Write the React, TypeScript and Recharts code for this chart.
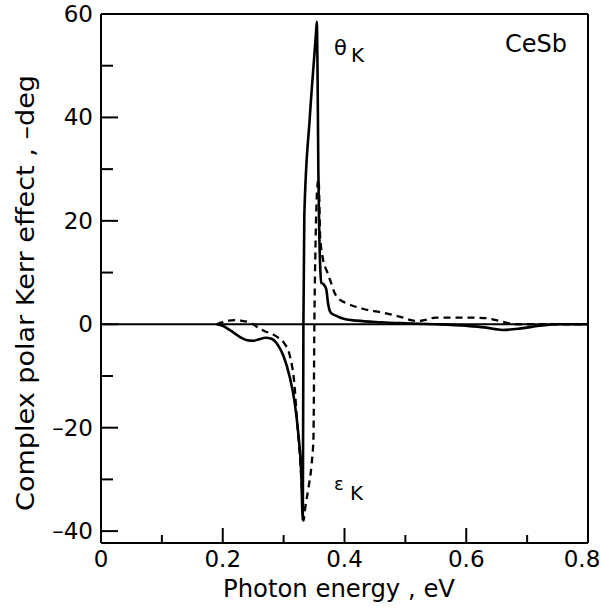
import { LineChart, Line, XAxis, YAxis, ReferenceLine, Label, Customized } from "recharts";

// theta_K (solid)
const thetaEnergy = [
  0.19, 0.2, 0.21, 0.22, 0.23, 0.24, 0.25, 0.26, 0.27, 0.28, 0.29, 0.3, 0.31, 0.318, 0.324, 0.329, 0.3315,
  0.3325, 0.334, 0.343, 0.353, 0.3545, 0.356, 0.357, 0.3585, 0.3605, 0.362, 0.365, 0.37, 0.373, 0.377, 0.385,
  0.4, 0.42, 0.46, 0.5, 0.55, 0.6, 0.63, 0.66, 0.69, 0.72, 0.75, 0.8,
];
const thetaKerr = [
  0, -0.3, -1, -1.8, -2.6, -3.1, -3.2, -2.9, -2.6, -2.8, -3.9, -6.2, -10.2, -15, -21, -29, -37.8,
  0, 21, 40, 56, 58.5, 45, 30, 18, 10, 8, 7.8, 6.8, 4, 2.3, 1.7,
  1.0, 0.7, 0.4, 0.2, 0, -0.3, -0.6, -1.1, -0.8, -0.3, 0, 0,
];

// epsilon_K (dashed)
const epsEnergy = [
  0.19, 0.2, 0.21, 0.22, 0.23, 0.24, 0.25, 0.26, 0.27, 0.28, 0.29, 0.3, 0.31, 0.318, 0.322, 0.327, 0.3305,
  0.3325, 0.336, 0.341, 0.346, 0.349, 0.3505, 0.3525, 0.355, 0.3575, 0.36, 0.364, 0.372, 0.378, 0.384, 0.39,
  0.405, 0.43, 0.46, 0.49, 0.52, 0.535, 0.55, 0.6, 0.63, 0.66, 0.68, 0.8,
];
const epsKerr = [
  0, 0.4, 0.7, 0.8, 0.7, 0.5, 0, -0.8, -1.4, -1.8, -2.5, -3.5, -6, -12, -18.5, -26, -33,
  -38, -35, -31.5, -27, -22, 0, 16, 26, 28, 17, 13, 10, 8, 6, 5,
  4, 3, 2.3, 1.5, 0.6, 0.9, 1.3, 1.3, 1.2, 0.5, 0, 0,
];

const xTicks = [0, 0.1, 0.2, 0.3, 0.4, 0.5, 0.6, 0.7, 0.8];
const xLabels = ["0", "", "0.2", "", "0.4", "", "0.6", "", "0.8"];
const yTicks = [-40, -30, -20, -10, 0, 10, 20, 30, 40, 50, 60];
const yLabels = ["–40", "", "–20", "", "0", "", "20", "", "40", "", "60"];

const thetaData = thetaEnergy.map((e, i) => ({ e, v: thetaKerr[i] }));
const epsData = epsEnergy.map((e, i) => ({ e, v: epsKerr[i] }));

const FONT = "'DejaVu Sans', sans-serif";

function XTick(props: any) {
  const { x, y, payload } = props;
  const i = xTicks.indexOf(payload.value);
  const label = xLabels[i] ?? "";
  const axisY = y - 8;
  // last label sits a little inside so it is not clipped
  const lx = i === xTicks.length - 1 ? x - 6 : x;
  return (
    <g>
      <line x1={x} x2={x} y1={axisY} y2={axisY - (label ? 15 : 8)} stroke="#000" strokeWidth={2} />
      {label && (
        <text x={lx} y={axisY + 24} textAnchor="middle" fontSize={23} fontFamily={FONT} fill="#000">
          {label}
        </text>
      )}
    </g>
  );
}

function YTick(props: any) {
  const { x, y, payload } = props;
  const i = yTicks.indexOf(payload.value);
  const label = yLabels[i] ?? "";
  const axisX = x + 8;
  return (
    <g>
      <line x1={axisX} x2={axisX + (label ? 17 : 12)} y1={y} y2={y} stroke="#000" strokeWidth={2} />
      {label && (
        <text x={x} y={y + 8} textAnchor="end" fontSize={23} fontFamily={FONT} fill="#000">
          {label}
        </text>
      )}
    </g>
  );
}

function Annotations() {
  return (
    <g fontFamily={FONT} fill="#000">
      <text x={334} y={55} fontSize={21}>θ</text>
      <text x={351} y={62} fontSize={20}>K</text>
      <text x={334} y={490} fontSize={18}>ε</text>
      <text x={350} y={500} fontSize={20}>K</text>
      <text x={505} y={52} fontSize={24}>CeSb</text>
    </g>
  );
}

export default function App() {
  return (
    <div style={{ position: "absolute", left: 0, top: 0, background: "#fff" }}>
      <LineChart width={601} height={609} margin={{ top: 14, right: 13, bottom: 0, left: 0 }}>
        <XAxis
          type="number"
          dataKey="e"
          domain={[0, 0.8]}
          ticks={xTicks}
          interval={0}
          allowDataOverflow
          height={66}
          tickSize={0}
          tickMargin={8}
          tickLine={false}
          axisLine={{ stroke: "#000", strokeWidth: 2 }}
          tick={<XTick />}
        >
          <Label
            content={() => (
              <text
                x={339}
                y={597}
                textAnchor="middle"
                fontSize={24}
                fontFamily={FONT}
                fill="#000"
                textLength={232}
                lengthAdjust="spacingAndGlyphs"
              >
                Photon energy , eV
              </text>
            )}
          />
        </XAxis>
        <YAxis
          type="number"
          domain={[-42.3, 60]}
          ticks={yTicks}
          interval={0}
          allowDataOverflow
          width={101}
          tickSize={0}
          tickMargin={8}
          tickLine={false}
          axisLine={{ stroke: "#000", strokeWidth: 2 }}
          tick={<YTick />}
        >
          <Label
            content={() => (
              <text
                x={34}
                y={293}
                transform="rotate(-90 34 293)"
                textAnchor="middle"
                fontSize={24}
                fontFamily={FONT}
                fill="#000"
                textLength={436}
                lengthAdjust="spacingAndGlyphs"
              >
                Complex polar Kerr effect , –deg
              </text>
            )}
          />
        </YAxis>
        <ReferenceLine y={60} stroke="#000" strokeWidth={2} />
        <ReferenceLine x={0.8} stroke="#000" strokeWidth={2} />
        <ReferenceLine y={0} stroke="#000" strokeWidth={2} />
        <Line
          data={epsData}
          dataKey="v"
          type="monotone"
          stroke="#000"
          strokeWidth={2.3}
          strokeDasharray="7 5"
          dot={false}
          isAnimationActive={false}
        />
        <Line
          data={thetaData}
          dataKey="v"
          type="monotone"
          stroke="#000"
          strokeWidth={2.6}
          dot={false}
          isAnimationActive={false}
        />
        <Customized component={Annotations} />
      </LineChart>
    </div>
  );
}
